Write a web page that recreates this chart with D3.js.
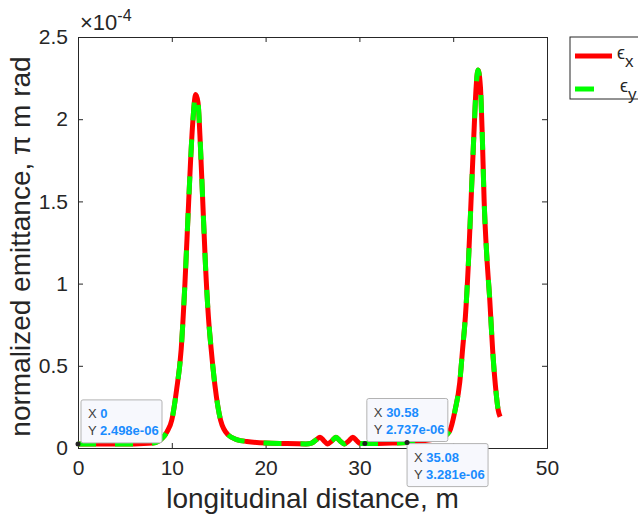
<!DOCTYPE html>
<html>
<head>
<meta charset="utf-8">
<script src="https://cdn.jsdelivr.net/npm/d3@7"></script>
<style>
  body { margin: 0; background: #fff; }
  text { font-family: "Liberation Sans", Arial, sans-serif; }
</style>
</head>
<body>
<div id="chart"></div>
<script>
// longitudinal distance (m) and emittance (units of 1e-4 pi m rad)
const sPos = [0, 3, 6, 8, 9, 9.5, 10, 10.5, 11, 11.4, 11.8, 12.2, 12.55, 12.8, 13.0, 13.3, 13.6, 13.9, 14.2, 14.6, 15.2, 16, 17, 18, 20, 22, 24.3,
    24.9, 25.4, 25.8, 26.2, 26.6, 27.1, 27.5, 27.9, 28.4, 28.9, 29.3, 29.7, 30.1, 30.58, 32, 33.5, 35.08, 36, 37, 38, 39, 39.6, 40.2, 40.7,
    41.0, 41.3, 41.6, 41.9, 42.2, 42.45, 42.65, 42.9, 43.1, 43.3, 43.6, 43.9, 44.2, 44.5, 44.8, 45.0];
const emitX = [0.025, 0.025, 0.025, 0.03, 0.06, 0.1, 0.17, 0.35, 0.6, 1.0, 1.5, 1.95, 2.15, 2.1, 1.9, 1.5, 1.1, 0.8, 0.6, 0.38, 0.17, 0.08, 0.05, 0.04, 0.03, 0.027, 0.025,
    0.03, 0.05, 0.066, 0.045, 0.025, 0.045, 0.066, 0.045, 0.025, 0.045, 0.066, 0.045, 0.027, 0.027, 0.028, 0.03, 0.033, 0.038, 0.045, 0.055, 0.07, 0.1, 0.23, 0.4,
    0.6, 0.8, 1.1, 1.5, 1.9, 2.2, 2.3, 2.2, 1.9, 1.5, 1.15, 0.9, 0.6, 0.38, 0.23, 0.19];
const emitY = emitX.slice();
const xTicks = [0, 10, 20, 30, 40, 50];
const yTicks = [0, 0.5, 1, 1.5, 2, 2.5];
const tipX = [0, 30.58, 35.08];
const tipY = [0.02498, 0.02737, 0.03281];
const tipLabelX = ["0", "30.58", "35.08"];
const tipLabelY = ["2.498e-06", "2.737e-06", "3.281e-06"];

const W = 638, H = 519;
const margin = { left: 78, top: 37, right: 91, bottom: 71 };
const width = W - margin.left - margin.right,
    height = H - margin.top - margin.bottom;

const svg = d3.select("#chart").append("svg")
    .attr("width", W).attr("height", H);

const g = svg.append("g").attr("transform", `translate(${margin.left},${margin.top})`);

const x = d3.scaleLinear().domain([0, 50]).range([0, width]);
const y = d3.scaleLinear().domain([0, 2.5]).range([height, 0]);

const axisCol = "#262626";

// axes with inward ticks
const axBottom = g.append("g").attr("transform", `translate(0,${height})`)
    .call(d3.axisBottom(x).tickValues(xTicks).tickSize(-5).tickPadding(12).tickFormat(d3.format("d")));
const axTop = g.append("g")
    .call(d3.axisTop(x).tickValues(xTicks).tickSize(-5).tickFormat(""));
const axLeft = g.append("g")
    .call(d3.axisLeft(y).tickValues(yTicks).tickSize(-5).tickPadding(10).tickFormat(d => d));
const axRight = g.append("g").attr("transform", `translate(${width},0)`)
    .call(d3.axisRight(y).tickValues(yTicks).tickSize(-5).tickFormat(""));

[axBottom, axTop, axLeft, axRight].forEach(a => {
    a.select(".domain").attr("stroke", axisCol).attr("stroke-width", 1);
    a.selectAll(".tick line").attr("stroke", axisCol);
    a.selectAll(".tick text").attr("fill", "#262626").style("font-size", "21px")
        .style("font-family", "'Liberation Sans', Arial, sans-serif");
});

// exponent label
svg.append("text").attr("x", 80).attr("y", 30).attr("fill", "#262626").style("font-size", "22px")
    .text("\u00d710").append("tspan").attr("dy", -9).style("font-size", "16px").text("-4");

// axis labels
svg.append("text").attr("x", margin.left + width / 2).attr("y", 508).attr("text-anchor", "middle")
    .attr("fill", "#262626").style("font-size", "28px").text("longitudinal distance, m");
svg.append("text").attr("transform", `translate(30,${margin.top + height / 2 + 4}) rotate(-90)`)
    .attr("text-anchor", "middle").attr("fill", "#262626").style("font-size", "28px")
    .text("normalized emittance, \u03c0 m rad");

const line = d3.line().curve(d3.curveMonotoneX).x((d, i) => x(sPos[i])).y(d => y(d));

g.append("path").datum(emitX)
    .attr("fill", "none").attr("stroke", "#ff0000").attr("stroke-width", 5)
    .attr("stroke-linejoin", "round")
    .attr("d", line);
g.append("path").datum(emitY)
    .attr("fill", "none").attr("stroke", "#00ff00").attr("stroke-width", 5)
    .attr("stroke-dasharray", "18,19")
    .attr("d", line);

// data tips
const tipBox = [[3, -44], [2, -45], [0, 1]];
tipX.forEach((tx, i) => {
    const px = x(tx), py = y(tipY[i]);
    const bx = px + tipBox[i][0], by = py + tipBox[i][1];
    const tip = g.append("g").attr("transform", `translate(${bx},${by})`);
    tip.append("rect").attr("width", 81).attr("height", 43).attr("rx", 2)
        .attr("fill", "#f7f8fd").attr("stroke", "#b3b3b3");
    const t1 = tip.append("text").attr("x", 7).attr("y", 18).style("font-size", "13px").attr("fill", "#404040");
    t1.append("tspan").text("X ");
    t1.append("tspan").attr("fill", "#1a8cff").attr("font-weight", "bold").text(tipLabelX[i]);
    const t2 = tip.append("text").attr("x", 7).attr("y", 35).style("font-size", "13px").attr("fill", "#404040");
    t2.append("tspan").text("Y ");
    t2.append("tspan").attr("fill", "#1a8cff").attr("font-weight", "bold").text(tipLabelY[i]);
    g.append("circle").attr("cx", px).attr("cy", py).attr("r", 2.5).attr("fill", "#222");
});

// legend
const leg = svg.append("g").attr("transform", "translate(570,37)");
leg.append("rect").attr("width", 80).attr("height", 62).attr("fill", "#fff").attr("stroke", "#262626");
leg.append("line").attr("x1", 5).attr("x2", 42).attr("y1", 19).attr("y2", 19)
    .attr("stroke", "#ff0000").attr("stroke-width", 5);
leg.append("line").attr("x1", 5).attr("x2", 24).attr("y1", 52).attr("y2", 52)
    .attr("stroke", "#00ff00").attr("stroke-width", 5);
const l1 = leg.append("text").attr("x", 47).attr("y", 22).attr("fill", "#262626").style("font-size", "18px");
l1.append("tspan").text("\u03f5");
l1.append("tspan").attr("dy", 8).style("font-size", "17px").text("x");
const l2 = leg.append("text").attr("x", 50).attr("y", 55).attr("fill", "#262626").style("font-size", "18px");
l2.append("tspan").text("\u03f5");
l2.append("tspan").attr("dy", 8).style("font-size", "17px").text("y");
</script>
</body>
</html>
